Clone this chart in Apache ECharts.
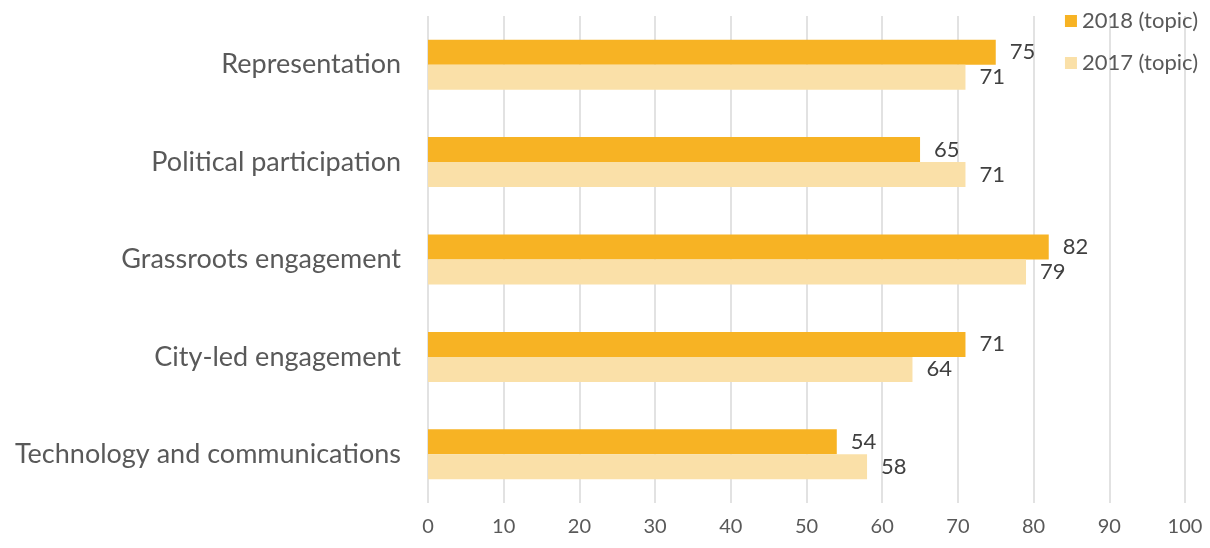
<!DOCTYPE html>
<html>
<head>
<meta charset="utf-8">
<script src="https://cdn.jsdelivr.net/npm/echarts@6/dist/echarts.min.js"></script>
<style>html,body{margin:0;padding:0;background:#fff}#c{width:1210px;height:548px}</style>
</head>
<body>
<div id="c"></div>
<script>
const categories = ["Representation", "Political participation", "Grassroots engagement", "City-led engagement", "Technology and communications"];
const values2018 = [75, 65, 82, 71, 54];
const values2017 = [71, 71, 79, 64, 58];
const seriesNames = ["2018 (topic)", "2017 (topic)"];
const xTicks = {min: 0, max: 100, interval: 10};

const FONT = "Lato";
const chart = echarts.init(document.getElementById('c'), null, {renderer: 'canvas'});
const labelCfg = {show: true, position: 'right', distance: 14, color: '#404040', fontSize: 22, fontFamily: FONT, padding: [3, 0, 0, 0]};
chart.setOption({
  animation: false,
  textStyle: {fontFamily: FONT},
  legend: {
    orient: 'vertical', right: 7, top: 5, itemWidth: 12, itemHeight: 12, itemGap: 20,
    icon: 'rect',
    textStyle: {fontSize: 22, color: '#595959', fontFamily: FONT},
    data: seriesNames
  },
  grid: {left: 428, right: 25, top: 16, height: 487, containLabel: false},
  xAxis: {
    type: 'value', min: xTicks.min, max: xTicks.max, interval: xTicks.interval,
    axisLine: {show: false}, axisTick: {show: false},
    splitLine: {show: true, lineStyle: {color: '#D9D9D9', width: 1.5}},
    axisLabel: {color: '#595959', fontSize: 20, fontFamily: FONT, margin: 14}
  },
  yAxis: {
    type: 'category', data: categories, inverse: true,
    axisLine: {show: false}, axisTick: {show: false},
    axisLabel: {color: '#595959', fontSize: 27, fontFamily: FONT, margin: 27, padding: [6, 0, 0, 0]}
  },
  series: [
    {name: seriesNames[0], type: 'bar', data: values2018, barWidth: 25, barGap: '0%',
     itemStyle: {color: '#F7B324'}, label: labelCfg},
    {name: seriesNames[1], type: 'bar', data: values2017, barWidth: 25, barGap: '0%',
     itemStyle: {color: '#FAE0A8'}, label: labelCfg}
  ]
});
</script>
</body>
</html>
